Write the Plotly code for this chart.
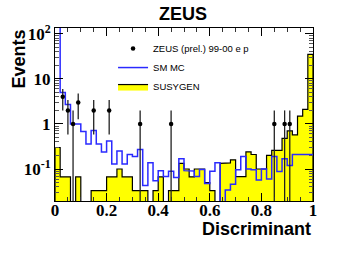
import numpy as np
import plotly.graph_objects as go

# ---------------- data ----------------
bin_edges = np.round(np.linspace(0.0, 1.0, 51), 4)

sm_mc = [140, 5.0, 2.7, 1.0, 1.0, 0.68, 0.36, 0.72, 0.36, 0.24,
         0.42, 0.13, 0.25, 0.13, 0.21, 0.19, 0.27, 0.043, 0.137, 0.055,
         0.092, 0.068, 0.089, 0.065, 0.17, 0.092, 0.09, 0.068, 0.097, 0.048,
         0.089, 0.137, 0.0, 0.034, 0.046, 0.096, 0.19, 0.10, 0.096, 0.057,
         0.10, 0.06, 0.19, 0.088, 0.17, 0.12, 0.21, 0.21, 0.21, 0.21]

susygen = [0.30, 0.067, 0.067, 0.0, 0.067, 0.0, 0.0, 0.033, 0.033, 0.033,
           0.067, 0.067, 0.10, 0.067, 0.067, 0.033, 0.033, 0.033, 0.0, 0.033,
           0.067, 0.0, 0.033, 0.033, 0.133, 0.10, 0.067, 0.10, 0.10, 0.05,
           0.033, 0.0, 0.133, 0.137, 0.16, 0.068, 0.068, 0.24, 0.21, 0.10,
           0.10, 0.20, 0.26, 0.26, 0.48, 0.70, 0.57, 1.5, 2.1, 35]

data_x = [0.03, 0.05, 0.07, 0.09, 0.15, 0.21, 0.33, 0.45, 0.85, 0.89, 0.91]
data_n = [4, 2, 1, 3, 2, 2, 1, 1, 1, 1, 1]

y_major_vals = [0.1, 1, 10, 100]
y_major_text = ["10<sup>-1</sup>", "1", "10", "10<sup>2</sup>"]
x_major_vals = [0, 0.2, 0.4, 0.6, 0.8, 1.0]
x_major_text = ["0", "0.2", "0.4", "0.6", "0.8", "1"]

FLOOR = 1e-4  # stands in for empty bins on the log axis (below the visible range)


def step_path(values):
    v = np.where(np.asarray(values, float) > 0, values, FLOOR)
    xs = [bin_edges[0]]
    ys = [FLOOR]
    for i in range(len(v)):
        xs += [bin_edges[i], bin_edges[i + 1]]
        ys += [v[i], v[i]]
    xs.append(bin_edges[-1])
    ys.append(FLOOR)
    return xs, ys


fig = go.Figure()

# SUSYGEN filled histogram
sx, sy = step_path(susygen)
fig.add_trace(go.Scatter(x=sx, y=sy, mode="lines", fill="toself",
                         fillcolor="#ffff00",
                         line=dict(color="black", width=1.2),
                         name="SUSYGEN", legendrank=3))

# SM MC step line
mx, my = step_path(sm_mc)
fig.add_trace(go.Scatter(x=mx[1:-1], y=my[1:-1], mode="lines",
                         line=dict(color="#2a2aff", width=1.5),
                         name="SM MC", legendrank=2))

# ZEUS data
dn = np.asarray(data_n, float)
err = np.sqrt(dn)
err_minus = np.where(dn - err <= 0, dn - FLOOR, err)
fig.add_trace(go.Scatter(x=data_x, y=data_n, mode="markers",
                         marker=dict(color="black", size=4.5),
                         error_y=dict(type="data", array=err, arrayminus=err_minus,
                                      color="#222222", thickness=1.3, width=0),
                         name="ZEUS (prel.) 99-00 e p", legendrank=1))

minor_y = [m * 10.0 ** e for e in range(-2, 3) for m in range(2, 10)]

tickfont = dict(family="Liberation Serif", size=17, color="black", weight="bold")
labfont = dict(family="Liberation Sans", size=18, color="black", weight="bold")

fig.update_layout(
    width=350, height=254,
    margin=dict(l=55, r=37, t=28, b=53),
    paper_bgcolor="white", plot_bgcolor="white",
    showlegend=True,
    legend=dict(x=0.225, y=0.965, xanchor="left", yanchor="top",
                bgcolor="rgba(0,0,0,0)", borderwidth=0,
                font=dict(family="Liberation Sans", size=9.5, color="black"),
                itemwidth=30, tracegroupgap=0),
    xaxis=dict(range=[0, 1], showgrid=False, zeroline=False,
               showline=True, linecolor="black", linewidth=1, mirror="allticks",
               ticks="inside", ticklen=8, tickcolor="black",
               tickmode="array", tickvals=x_major_vals, ticktext=x_major_text,
               tickfont=tickfont, ticklabelstandoff=-6,
               minor=dict(dtick=0.05, tick0=0, ticks="inside", ticklen=4,
                          tickcolor="#333333", showgrid=False)),
    yaxis=dict(type="log", range=[np.log10(0.0195), np.log10(135)],
               showgrid=False, zeroline=False,
               showline=True, linecolor="black", linewidth=1, mirror="allticks",
               ticks="inside", ticklen=8, tickcolor="black",
               tickmode="array", tickvals=y_major_vals, ticktext=y_major_text,
               tickfont=tickfont,
               minor=dict(tickmode="array", tickvals=minor_y, ticks="inside",
                          ticklen=4, tickcolor="#555555", showgrid=False)),
    annotations=[
        dict(text="ZEUS", xref="paper", yref="paper",
             x=(183 - 55) / 258, y=1 + (28 - 14) / 173, xanchor="center", yanchor="middle",
             showarrow=False, font=labfont),
        dict(text="Discriminant", xref="paper", yref="paper",
             x=1.0, y=-(229 - 201) / 173, xanchor="right", yanchor="middle",
             showarrow=False, font=labfont),
        dict(text="Events", xref="paper", yref="paper", textangle=-90,
             x=-(55 - 18) / 258, y=1.0, xanchor="center", yanchor="top",
             showarrow=False, font=labfont),
    ],
)

fig.write_html("out.html", config={"displayModeBar": False},
               post_script="document.body.style.margin='0';document.body.style.padding='0';")
